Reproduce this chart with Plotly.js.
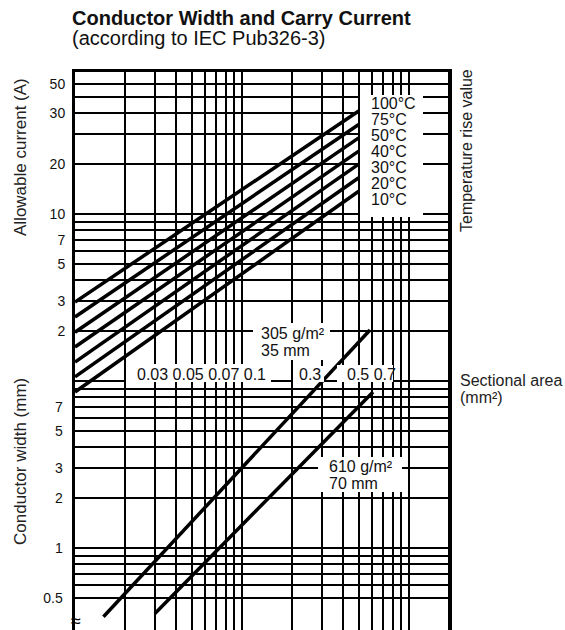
<!DOCTYPE html>
<html>
<head>
<meta charset="utf-8">
<script src="https://cdn.plot.ly/plotly-3.0.1.min.js"></script>
<style>
html,body{margin:0;padding:0;background:#fff;}
#chart{width:565px;height:630px;}
</style>
</head>
<body>
<div id="chart"></div>
<script>
// ---------------- data ----------------
// vertical grid (sectional area, mm²)
const areaGrid = [0.02,0.03,0.04,0.05,0.06,0.07,0.08,0.09,0.1,0.2,0.3,0.4,0.5,0.6,0.7,0.8,0.9,1];
// conductor width grid / ticks (mm)
const widthGrid = [0.5,0.6,0.7,0.8,0.9,1,2,3,4,5,6,7,8,9,10];
const widthTickText = ['0.5','','','','','1','2','3','','5','','7','','',''];
// allowable current grid / ticks (A) – labels as printed on the original
const currentGrid = [1,2,3,4,5,6,7,8,9,10,20,30,40,50,60];
const currentTickText = ['','2','3','','5','','7','','','10','20','','30','','50'];

// temperature rise lines (allowable current vs. sectional area)
const tempRise = ['100°C','75°C','50°C','40°C','30°C','20°C','10°C'];
const tempArea = [0.01, 0.5];
const currentAtMinArea = [2.97, 2.42, 1.96, 1.60, 1.30, 1.06, 0.86];
const currentAtMaxArea = [41.4, 34.4, 28.6, 23.8, 19.9, 16.5, 13.7];

// copper foil lines (conductor width vs. sectional area)
const foilLabels = ['305 g/m²', '610 g/m²'];
const foilThickness = ['35 mm', '70 mm'];
const foil35Area = [0.0148, 0.584];
const foil35Width = [0.388, 20.2];
const foil70Area = [0.0301, 0.609];
const foil70Width = [0.406, 8.6];

// area labels printed in the middle row
const areaLabelGroups = ['0.03 0.05 0.07 0.1', '0.3', '0.5 0.7'];

// ---------------- layout helpers ----------------
const W = 565, H = 630;
const L = 75, R = 448, T = 72, B = 630;
const px = x => (x - L) / (R - L);
const py = y => (B - y) / (B - T);
const FONT = 'Liberation Sans, Arial, Helvetica, sans-serif';

const traces = [];
tempRise.forEach((t, i) => {
  traces.push({
    type: 'scatter', mode: 'lines', name: t,
    x: tempArea, y: [currentAtMinArea[i], currentAtMaxArea[i]],
    xaxis: 'x', yaxis: 'y2',
    line: {color: '#000', width: 3.5}, hoverinfo: 'skip'
  });
});
traces.push({type:'scatter', mode:'lines', name: foilLabels[0],
  x: foil35Area, y: foil35Width, xaxis:'x', yaxis:'y',
  line:{color:'#000', width:3.5}, hoverinfo:'skip'});
traces.push({type:'scatter', mode:'lines', name: foilLabels[1],
  x: foil70Area, y: foil70Width, xaxis:'x', yaxis:'y',
  line:{color:'#000', width:3.5}, hoverinfo:'skip'});

const yTop = (B - T) / 167; // decades in plot height
const yMin = Math.log10(0.323);
const widthRange = [yMin, yMin + yTop];
const currentRange = [yMin - 1, yMin - 1 + yTop];
const xRange = [-2, -2 + (R - L) / 167];

const annotations = [];
const shapes = [];
const white = (x0, x1, y0, y1) => shapes.push({
  type:'rect', xref:'paper', yref:'paper', layer:'above',
  x0: px(x0), x1: px(x1), y0: py(y1), y1: py(y0),
  fillcolor:'#fff', line:{width:0}
});
const txt = (text, x, y, opts={}) => annotations.push(Object.assign({
  text, xref:'paper', yref:'paper', x: px(x), y: py(y),
  xanchor:'left', yanchor:'middle', showarrow:false,
  font:{family:FONT, size:16, color:'#111'}
}, opts));

// title
txt('<b>Conductor Width and Carry Current</b>', 70, 18, {font:{family:FONT, size:20, color:'#111'}});
txt('(according to IEC Pub326-3)', 70, 38.5, {font:{family:FONT, size:20, color:'#111'}});

// temperature labels box
white(360, 423, 95, 217);
tempRise.forEach((t, i) => txt(t, 369, 103.5 + 16 * i));

// foil labels
white(253, 330, 323, 360);
txt(foilLabels[0], 259, 333.5);
txt(foilThickness[0], 259, 350);
white(318, 402, 457, 492);
txt(foilLabels[1], 326.5, 466.5);
txt(foilThickness[1], 326.5, 483);

// area labels row
white(126, 271, 364, 382);
white(293, 324, 366, 382);
white(337, 393, 365, 382);
txt(areaLabelGroups[0], 135, 374.5);
txt(areaLabelGroups[1], 296.5, 374.5);
txt(areaLabelGroups[2], 344.5, 374.5);

// right side labels
txt('Temperature rise value', 467, 151, {textangle:-90, xanchor:'center', font:{family:FONT, size:16, color:'#222'}});
txt('Sectional area', 458, 380, {font:{family:FONT, size:16, color:'#222'}});
txt('(mm²)', 458, 397, {font:{family:FONT, size:16, color:'#222'}});

// axis titles
txt('Allowable current (A)', 20, 157, {textangle:-90, xanchor:'center', font:{family:FONT, size:17, color:'#222'}});
txt('Conductor width (mm)', 20, 462, {textangle:-90, xanchor:'center', font:{family:FONT, size:17, color:'#222'}});

// axis break mark
txt('≈', 76, 621, {xanchor:'center', font:{family:FONT, size:18, color:'#000'}});

const layout = {
  width: W, height: H,
  margin: {l: L, r: W - R, t: T, b: H - B, pad: 0},
  paper_bgcolor: '#fff', plot_bgcolor: '#fff',
  showlegend: false,
  font: {family: FONT, color: '#111'},
  xaxis: {
    type:'log', range: xRange, tickmode:'array', tickvals: areaGrid,
    showticklabels:false, ticks:'', showgrid:true, gridcolor:'#000', gridwidth:2,
    showline:true, mirror:true, linecolor:'#000', linewidth:3, zeroline:false
  },
  yaxis: {
    type:'log', range: widthRange, tickmode:'array', tickvals: widthGrid, ticktext: widthTickText,
    ticks:'outside', ticklen:6, tickcolor:'rgba(0,0,0,0)',
    tickfont:{family:FONT, size:14, color:'#111'},
    showgrid:true, gridcolor:'#000', gridwidth:2,
    showline:true, mirror:true, linecolor:'#000', linewidth:3.5, zeroline:false
  },
  yaxis2: {
    type:'log', range: currentRange, overlaying:'y', side:'left',
    tickmode:'array', tickvals: currentGrid, ticktext: currentTickText,
    ticks:'outside', ticklen:6, tickcolor:'rgba(0,0,0,0)',
    tickfont:{family:FONT, size:14, color:'#111'},
    showgrid:true, gridcolor:'#000', gridwidth:2, showline:false, zeroline:false
  },
  annotations, shapes
};

Plotly.newPlot('chart', traces, layout, {staticPlot:true, displayModeBar:false});
</script>
</body>
</html>
